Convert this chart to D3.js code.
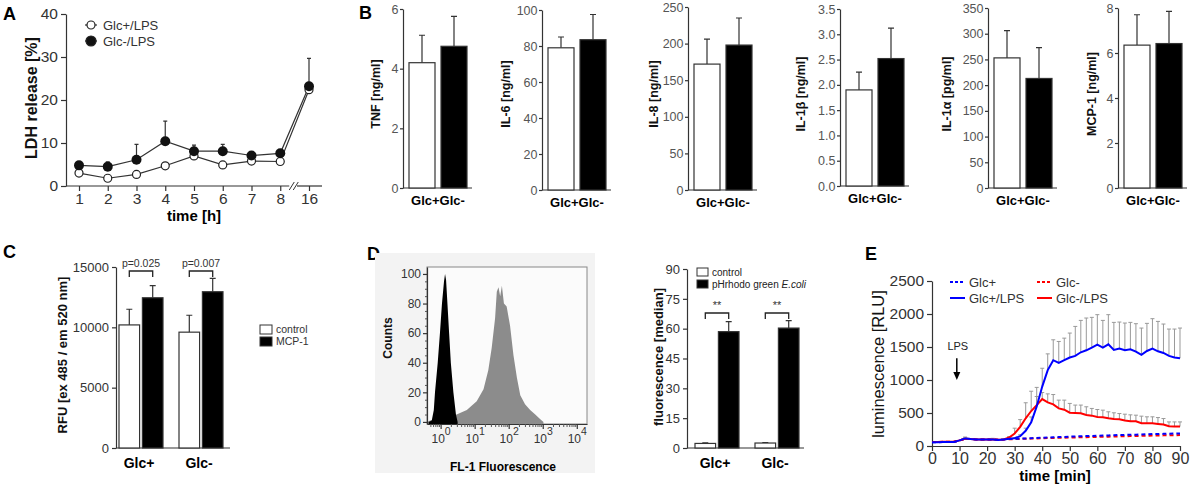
<!DOCTYPE html>
<html>
<head>
<meta charset="utf-8">
<script src="https://cdn.jsdelivr.net/npm/d3@7"></script>
<style>
body{margin:0;background:#fff;}
svg{display:block;font-family:Arial,"Liberation Sans",sans-serif;}
</style>
</head>
<body>
<div id="fig"></div>
<script>
// A: LDH release over time
var ldhTimes = ["1","2","3","4","5","6","7","8","16"];
var ldhGlcPlus = [3.0,1.8,2.7,4.7,7.0,4.9,5.8,5.7,22.4];
var ldhGlcMinus = [4.8,4.5,6.1,10.4,8.1,8.1,7.1,7.6,23.2];
var ldhGlcMinusSd = [0.6,1.1,3.6,4.7,1.4,1.6,0.6,0.6,6.5];

// B: cytokines
var cytoGroups = ["Glc+","Glc-"];
var cytoNames = ["TNF [ng/ml]","IL-6 [ng/ml]","IL-8 [ng/ml]","IL-1\u03b2 [ng/ml]","IL-1\u03b1 [pg/ml]","MCP-1 [ng/ml]"];
var cytoMean = [[4.2,4.75],[79,83.5],[172,198],[1.9,2.52],[253,213],[6.35,6.42]];
var cytoSd = [[0.92,1.0],[6,14],[34,37],[0.35,0.6],[53,60],[1.35,1.43]];
var cytoMax = [6,100,250,3.5,350,8];
var cytoStep = [2,20,50,0.5,50,2];

// C: RFU
var rfuGroups = ["Glc+","Glc-"];
var rfuSeries = ["control","MCP-1"];
var rfuMean = [[10200,12450],[9600,12950]];
var rfuSd = [[1300,1000],[1400,1100]];
var rfuP = ["p=0.025","p=0.007"];

// D: flow histogram (log10 FL-1, counts)
var flCtrlLog = [-0.35,-0.26,-0.2,-0.165,-0.085,-0.02,0.04,0.1,0.13,0.16,0.2,0.25,0.3,0.375,0.45,0.5];
var flCtrlCount = [0,1,8,20,40,60,80,95,100,96,80,60,40,20,5,0];
var flEcoliLog = [-0.4,-0.31,0.08,0.47,0.77,1.06,1.26,1.4,1.5,1.6,1.65,1.7,1.75,1.8,1.86,1.94,2.04,2.14,2.24,2.34,2.48,2.63,2.78,2.92,3.02];
var flEcoliCount = [0,1,3,5,8,14,22,35,50,70,88,91,85,92,80,78,65,45,30,18,12,8,5,2,0];
var flTicks = [1,10,100,1000,10000];

// D: median fluorescence
var phrGroups = ["Glc+","Glc-"];
var phrSeries = ["control","pHrhodo green "];
var phrMean = [[2.3,58.5],[2.5,60.3]];
var phrSd = [[0.3,5],[0.2,3.7]];
var phrSig = ["**","**"];

// E: luminescence
var eTime = [0,2,4,6,8,10,12,14,16,18,20,22,24,26,28,30,32,34,36,38,40,42,44,46,48,50,52,54,56,58,60,62,64,66,68,70,72,74,76,78,80,82,84,86,88,90];
var eGlcPlus = [55,55,60,60,60,85,110,105,100,100,100,100,95,100,105,110,112,115,118,122,125,128,132,135,138,142,145,148,150,153,156,158,160,163,166,168,170,172,175,177,180,182,184,186,188,190];
var eGlcMinus = [60,60,65,65,65,85,108,105,100,100,100,100,95,100,102,105,108,110,112,115,118,120,122,124,126,128,130,132,134,136,138,140,142,144,146,148,150,152,154,156,158,160,161,162,163,165];
var eGlcPlusLps = [55,55,60,60,60,85,115,105,100,100,100,100,90,100,110,118,150,230,360,600,900,1150,1300,1260,1300,1340,1365,1420,1450,1490,1535,1490,1540,1455,1475,1450,1465,1430,1380,1440,1475,1435,1410,1365,1340,1330];
var eGlcPlusLpsSd = [0,0,0,0,0,0,20,0,0,0,0,15,0,10,0,10,20,40,80,150,278,246,309,324,334,371,447,483,489,459,455,413,450,418,403,413,408,423,407,418,454,453,438,407,432,457];
var eGlcMinusLps = [60,60,65,65,65,85,110,105,100,100,100,100,95,100,128,190,290,420,530,620,710,660,630,570,550,505,500,495,470,460,440,435,420,410,405,385,375,375,345,345,345,335,325,300,295,295];
var eGlcMinusLpsSd = [0,0,0,0,0,0,20,0,0,0,0,15,0,10,15,80,110,235,300,268,100,130,150,125,145,140,120,125,124,109,113,108,98,93,87,97,97,92,107,97,97,96,91,65,70,70];
var eLegend = ["Glc+","Glc-","Glc+/LPS","Glc-/LPS"];

var svg = d3.select('#fig').append('svg').attr('width',1190).attr('height',488);
svg.append('rect').attr('width',1190).attr('height',488).attr('fill','#fff');

function styleAxis(sel, fs){
    sel.attr('font-family',null).attr('font-size',fs);
    sel.select('.domain').attr('stroke','#333').attr('stroke-width',1.2);
    sel.selectAll('.tick line').attr('stroke','#333').attr('stroke-width',1.2);
    sel.selectAll('.tick text').attr('fill','#333');
}

function panelLabel(t, x, y){
    svg.append('text').attr('x',x).attr('y',y)
       .attr('font-size',18).attr('font-weight','bold').text(t);
}

function vLabel(t, x, y, fs, bold){
    svg.append('text')
       .attr('transform','translate('+x+','+y+') rotate(-90)')
       .attr('text-anchor','middle')
       .attr('font-size',fs)
       .attr('font-weight', bold ? 'bold' : 'normal')
       .attr('fill','#111')
       .text(t);
}

function errPath(cx, yv, yt, w){
    return 'M'+cx+','+yv+'V'+yt+'M'+(cx-w)+','+yt+'H'+(cx+w);
}

function plotA(){
    var x = d3.scalePoint().domain(ldhTimes).range([79,309]);
    var y = d3.scaleLinear().domain([0,40]).range([186,14]);

    var ya = svg.append('g').attr('transform','translate(66,0)')
        .call(d3.axisLeft(y).tickValues([0,10,20,30,40]).tickSize(5).tickSizeOuter(0));
    styleAxis(ya, 15.5);

    var xa = svg.append('g').attr('transform','translate(0,186)')
        .call(d3.axisBottom(x).tickSize(5).tickPadding(2));
    styleAxis(xa, 15.5);
    xa.select('.domain').remove();
    // broken x axis
    xa.append('line').attr('x1',66).attr('x2',x('8')+9).attr('stroke','#333').attr('stroke-width',1.2);
    xa.append('line').attr('x1',x('16')-12).attr('x2',x('16')+13).attr('stroke','#333').attr('stroke-width',1.2);
    [x('8')+9, x('8')+13].forEach(function(bx){
        xa.append('line').attr('x1',bx).attr('y1',4).attr('x2',bx+5).attr('y2',-4)
          .attr('stroke','#333').attr('stroke-width',1);
    });

    var line = d3.line().x(function(d,i){ return x(ldhTimes[i]); }).y(function(d){ return y(d); });
    svg.append('path').datum(ldhGlcPlus).attr('d',line).attr('fill','none').attr('stroke','#333').attr('stroke-width',1.2);
    svg.append('path').datum(ldhGlcMinus).attr('d',line).attr('fill','none').attr('stroke','#333').attr('stroke-width',1.2);

    svg.selectAll('.ldhErr').data(ldhGlcMinus).enter().append('path')
       .attr('d', function(d,i){ return errPath(x(ldhTimes[i]), y(d), y(d+ldhGlcMinusSd[i]), 2); })
       .attr('stroke','#333').attr('stroke-width',1.2).attr('fill','none');

    svg.selectAll('.ldhOpen').data(ldhGlcPlus).enter().append('circle')
       .attr('cx', function(d,i){ return x(ldhTimes[i]); })
       .attr('cy', function(d){ return y(d); })
       .attr('r',4).attr('fill','#fff').attr('stroke','#222').attr('stroke-width',1.2);
    svg.selectAll('.ldhFill').data(ldhGlcMinus).enter().append('circle')
       .attr('cx', function(d,i){ return x(ldhTimes[i]); })
       .attr('cy', function(d){ return y(d); })
       .attr('r',5).attr('fill','#111');

    // legend
    var lg = [["Glc+/LPS",false],["Glc-/LPS",true]];
    lg.forEach(function(l,i){
        var ly = 25 + i*16;
        svg.append('line').attr('x1',85).attr('x2',97).attr('y1',ly).attr('y2',ly).attr('stroke','#333').attr('stroke-width',1.2);
        svg.append('circle').attr('cx',91).attr('cy',ly).attr('r', l[1] ? 5 : 4)
           .attr('fill', l[1] ? '#111' : '#fff').attr('stroke','#222').attr('stroke-width',1.2);
        svg.append('text').attr('x',103).attr('y',ly+4.5).attr('font-size',13).attr('fill','#333').text(l[0]);
    });

    vLabel('LDH release [%]', 37, 98, 16, true);
    svg.append('text').attr('x',194).attr('y',221).attr('text-anchor','middle')
       .attr('font-size',15).attr('font-weight','bold').text('time [h]');
}

var cytoLayout = [
    {ax:403, y0:188, y1:9,  lx:380},
    {ax:542, y0:190, y1:10, lx:510},
    {ax:688, y0:190, y1:7,  lx:658},
    {ax:840, y0:186, y1:9,  lx:805},
    {ax:988, y0:188, y1:8,  lx:951},
    {ax:1118,y0:188, y1:8,  lx:1096}
];

function plotCyto(k){
    var L = cytoLayout[k];
    var y = d3.scaleLinear().domain([0,cytoMax[k]]).range([L.y0,L.y1]);
    var x = d3.scaleBand().domain(cytoGroups).range([L.ax+6, L.ax+64]).paddingInner(0.1875);
    var g = svg.append('g');
    var ticks = d3.range(0, cytoMax[k]+cytoStep[k]/2, cytoStep[k]);
    var ya = g.append('g').attr('transform','translate('+L.ax+',0)')
        .call(d3.axisLeft(y).tickValues(ticks)
              .tickFormat(k==3 ? d3.format('.1f') : d3.format('d'))
              .tickSize(3).tickPadding(1.5).tickSizeOuter(0));
    styleAxis(ya, 12.5);
    ya.selectAll('.tick text').attr('fill','#555');
    g.append('line').attr('x1',L.ax).attr('x2',L.ax+69).attr('y1',L.y0).attr('y2',L.y0)
     .attr('stroke','#333').attr('stroke-width',1.2);

    g.selectAll('.err').data(cytoGroups).enter().append('path')
     .attr('d', function(d,i){
         return errPath(x(d)+x.bandwidth()/2, y(cytoMean[k][i]), y(cytoMean[k][i]+cytoSd[k][i]), 3);
     })
     .attr('stroke','#333').attr('stroke-width',1.2).attr('fill','none');

    g.selectAll('.bar').data(cytoGroups).enter().append('rect')
     .attr('x', function(d){ return x(d); })
     .attr('y', function(d,i){ return y(cytoMean[k][i]); })
     .attr('width', x.bandwidth())
     .attr('height', function(d,i){ return L.y0 - y(cytoMean[k][i]); })
     .attr('fill', function(d,i){ return i==0 ? '#fff' : '#000'; })
     .attr('stroke','#333').attr('stroke-width',1.2);

    g.append('text').attr('x', L.ax+35).attr('y', L.y0+17).attr('text-anchor','middle')
     .attr('font-size',13).attr('font-weight','bold').text(cytoGroups.join(''));
    vLabel(cytoNames[k], L.lx, 94, 12.5, true);
}

function groupedBars(opt){
    var y = d3.scaleLinear().domain([0,opt.max]).range([opt.y0,opt.y1]);
    var x0 = d3.scaleBand().domain(opt.groups).range(opt.xr).paddingInner(16/60);
    var x1 = d3.scaleBand().domain(opt.series).range([0,x0.bandwidth()]).paddingInner(0.12);
    var ya = svg.append('g').attr('transform','translate('+opt.ax+',0)')
        .call(d3.axisLeft(y).tickValues(d3.range(0,opt.max+1,opt.step)).tickFormat(d3.format('d'))
              .tickSize(4).tickSizeOuter(0));
    styleAxis(ya, opt.fs);
    svg.append('line').attr('x1',opt.ax).attr('x2',opt.axEnd).attr('y1',opt.y0).attr('y2',opt.y0)
       .attr('stroke','#333').attr('stroke-width',1.2);

    opt.groups.forEach(function(gname,gi){
        var gg = svg.append('g').attr('transform','translate('+x0(gname)+',0)');
        gg.selectAll('.err').data(opt.series).enter().append('path')
          .attr('d', function(d,i){
              return errPath(x1(d)+x1.bandwidth()/2, y(opt.mean[gi][i]), y(opt.mean[gi][i]+opt.sd[gi][i]), 3);
          })
          .attr('stroke','#333').attr('stroke-width',1.2).attr('fill','none');
        gg.selectAll('.bar').data(opt.series).enter().append('rect')
          .attr('x', function(d){ return x1(d); })
          .attr('y', function(d,i){ return y(opt.mean[gi][i]); })
          .attr('width', x1.bandwidth())
          .attr('height', function(d,i){ return opt.y0 - y(opt.mean[gi][i]); })
          .attr('fill', function(d,i){ return i==0 ? '#fff' : '#000'; })
          .attr('stroke','#333').attr('stroke-width',1.2);
        // significance bracket
        var c0 = x1(opt.series[0]) + x1.bandwidth()/2;
        var c1 = x1(opt.series[1]) + x1.bandwidth()/2;
        gg.append('path')
          .attr('d','M'+c0+','+(opt.brY+6)+'V'+opt.brY+'H'+c1+'V'+(opt.brY+6))
          .attr('stroke','#222').attr('stroke-width',1.3).attr('fill','none');
        gg.append('text').attr('x',(c0+c1)/2).attr('y',opt.brY-4).attr('text-anchor','middle')
          .attr('font-size',opt.sigFs).attr('fill','#333').text(opt.sig[gi]);
        gg.append('text').attr('x',x0.bandwidth()/2 - 2).attr('y',opt.y0+20).attr('text-anchor','middle')
          .attr('font-size',14).attr('font-weight','bold').text(gname);
    });
}

function plotC(){
    groupedBars({groups:rfuGroups, series:rfuSeries, mean:rfuMean, sd:rfuSd, sig:rfuP,
                 max:15000, step:5000, y0:448, y1:267, ax:116, axEnd:230, xr:[119,223],
                 fs:13, brY:271, sigFs:10.5});
    vLabel('RFU [ex 485 / em 520 nm]', 67, 355, 13, true);
    rfuSeries.forEach(function(s,i){
        svg.append('rect').attr('x',260).attr('y',325+i*12).attr('width',12).attr('height',9)
           .attr('fill', i==0 ? '#fff' : '#000').attr('stroke','#333').attr('stroke-width',1);
        svg.append('text').attr('x',276).attr('y',333+i*12).attr('font-size',10.5).attr('fill','#333').text(s);
    });
}

function plotDHist(){
    svg.append('rect').attr('x',375).attr('y',253).attr('width',220).attr('height',220).attr('fill','#f3f3f3');
    var x = d3.scaleLog().domain([Math.pow(10,-0.4), Math.pow(10,4.3)]).range([427,587]);
    var y = d3.scaleLinear().domain([-1.4,104.7]).range([424,267]);
    svg.append('rect').attr('x',427).attr('y',267).attr('width',160).attr('height',157)
       .attr('fill','#fbfbfb').attr('stroke','#888').attr('stroke-width',1);

    var area = d3.area()
        .x(function(d){ return x(Math.pow(10,d[0])); })
        .y0(y(-1.4))
        .y1(function(d){ return y(d[1]); });
    svg.append('path').datum(d3.zip(flEcoliLog, flEcoliCount)).attr('d',area).attr('fill','#8c8c8c');
    svg.append('path').datum(d3.zip(flCtrlLog, flCtrlCount)).attr('d',area).attr('fill','#000');

    var ya = svg.append('g').attr('transform','translate(427,0)')
        .call(d3.axisLeft(y).tickValues([0,20,40,60,80,100]).tickSize(4).tickPadding(2).tickSizeOuter(0));
    styleAxis(ya, 12);
    var minorY = d3.range(0,101,5).filter(function(v){ return v % 20 != 0; });
    svg.append('g').attr('transform','translate(427,0)')
       .call(d3.axisLeft(y).tickValues(minorY).tickSize(2).tickFormat(''))
       .call(function(s){ s.select('.domain').remove(); s.selectAll('line').attr('stroke','#555'); });

    var xa = svg.append('g').attr('transform','translate(0,424)')
        .call(d3.axisBottom(x).tickValues(flTicks).tickSize(5).tickPadding(5).tickSizeOuter(0));
    styleAxis(xa, 12);
    xa.selectAll('.tick text').text(null).each(function(d){
        var t = d3.select(this);
        t.append('tspan').text('10');
        t.append('tspan').attr('dy','-0.7em').attr('font-size',10.5).text(Math.round(Math.log10(d)));
    });
    var minorX = [];
    flTicks.forEach(function(t){ [2,3,4,5,6,7,8,9].forEach(function(m){ if (t*m <= Math.pow(10,4.3)) minorX.push(t*m); }); });
    minorX.push(0.5,0.6,0.7,0.8,0.9);
    svg.append('g').attr('transform','translate(0,424)')
       .call(d3.axisBottom(x).tickValues(minorX).tickSize(3).tickFormat(''))
       .call(function(s){ s.select('.domain').remove(); s.selectAll('line').attr('stroke','#555'); });

    vLabel('Counts', 392, 338, 12, true);
    svg.append('text').attr('x',503).attr('y',471).attr('text-anchor','middle')
       .attr('font-size',12).attr('font-weight','bold').text('FL-1 Fluorescence');
}

function plotDBar(){
    groupedBars({groups:phrGroups, series:phrSeries, mean:phrMean, sd:phrSd, sig:phrSig,
                 max:90, step:15, y0:448, y1:269, ax:687, axEnd:804, xr:[695,799],
                 fs:13, brY:313, sigFs:11});
    vLabel('fluorescence [median]', 663, 357, 13, true);
    phrSeries.forEach(function(s,i){
        svg.append('rect').attr('x',697).attr('y',268+i*12).attr('width',11).attr('height',8)
           .attr('fill', i==0 ? '#fff' : '#000').attr('stroke','#333').attr('stroke-width',1);
        var t = svg.append('text').attr('x',712).attr('y',276+i*12).attr('font-size',10).attr('fill','#222').text(s);
        if (i==1) t.append('tspan').attr('font-style','italic').text('E.coli');
    });
}

function plotE(){
    var x = d3.scaleLinear().domain([0,90]).range([932,1180]);
    var y = d3.scaleLinear().domain([0,2500]).range([446,281]);
    var ya = svg.append('g').attr('transform','translate(932,0)')
        .call(d3.axisLeft(y).tickValues(d3.range(0,2501,500)).tickFormat(d3.format('d'))
              .tickSize(5).tickSizeOuter(0));
    styleAxis(ya, 15.5);
    var xa = svg.append('g').attr('transform','translate(0,446)')
        .call(d3.axisBottom(x).tickValues(d3.range(0,91,10)).tickSize(5).tickPadding(2).tickSizeOuter(0));
    styleAxis(xa, 16);

    var line = function(vals){
        return d3.line().x(function(d,i){ return x(eTime[i]); }).y(function(d){ return y(d); })(vals);
    };
    svg.append('path').attr('d',line(eGlcMinus)).attr('fill','none').attr('stroke','#f00')
       .attr('stroke-width',2).attr('stroke-dasharray','4,3');
    svg.append('path').attr('d',line(eGlcPlus)).attr('fill','none').attr('stroke','#00f')
       .attr('stroke-width',2).attr('stroke-dasharray','4,3');

    [[eGlcPlusLps,eGlcPlusLpsSd],[eGlcMinusLps,eGlcMinusLpsSd]].forEach(function(s){
        svg.append('g').selectAll('path').data(eTime).enter()
           .filter(function(d,i){ return s[1][i] > 0; })
           .append('path')
           .attr('d', function(t){
               var i = eTime.indexOf(t);
               return errPath(x(t), y(s[0][i]), y(s[0][i] + s[1][i]), 2);
           })
           .attr('stroke','#999').attr('stroke-width',1).attr('fill','none');
    });

    svg.append('path').attr('d',line(eGlcMinusLps)).attr('fill','none').attr('stroke','#f00').attr('stroke-width',2);
    svg.append('path').attr('d',line(eGlcPlusLps)).attr('fill','none').attr('stroke','#00f').attr('stroke-width',2);

    // legend
    var lgX = [950, 1037];
    eLegend.forEach(function(l,i){
        var lx = lgX[i%2], ly = i < 2 ? 282 : 298;
        svg.append('line').attr('x1',lx).attr('x2',lx+15).attr('y1',ly).attr('y2',ly)
           .attr('stroke', i%2==0 ? '#00f' : '#f00').attr('stroke-width',2)
           .attr('stroke-dasharray', i < 2 ? '3,2' : null);
        svg.append('text').attr('x',lx+19).attr('y',ly+4.5).attr('font-size',13).attr('fill','#333').text(l);
    });

    // LPS arrow
    var ax = x(9);
    svg.append('text').attr('x',ax+1).attr('y',y(1460)).attr('text-anchor','middle')
       .attr('font-size',11).attr('fill','#222').text('LPS');
    svg.append('line').attr('x1',ax).attr('x2',ax).attr('y1',y(1330)).attr('y2',y(1040))
       .attr('stroke','#000').attr('stroke-width',1.5);
    svg.append('path').attr('d','M'+(ax-3.5)+','+(y(1000)-8)+'L'+ax+','+y(1000)+'L'+(ax+3.5)+','+(y(1000)-8)+'Z')
       .attr('fill','#000');

    vLabel('luminescence [RLU]', 884, 364, 16.5, false);
    svg.append('text').attr('x',1055).attr('y',481).attr('text-anchor','middle')
       .attr('font-size',15).attr('font-weight','bold').text('time [min]');
}

panelLabel('A', 3, 20);
plotA();
panelLabel('B', 359, 19);
for (var k = 0; k < 6; k++) plotCyto(k);
panelLabel('C', 3, 258);
plotC();
panelLabel('D', 367, 260);
plotDHist();
plotDBar();
panelLabel('E', 865, 260);
plotE();
</script>
</body>
</html>
